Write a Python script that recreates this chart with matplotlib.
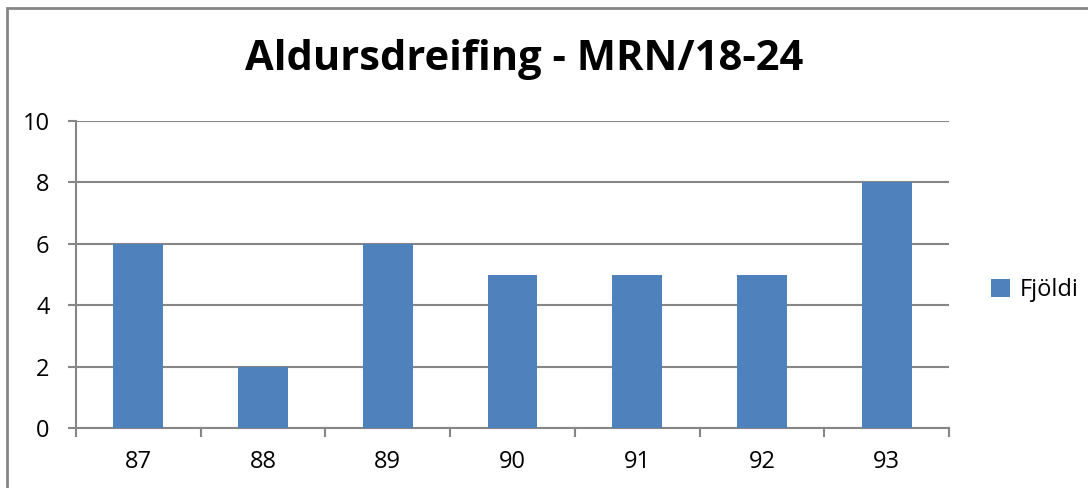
import matplotlib
matplotlib.use("Agg")
import matplotlib.pyplot as plt
from matplotlib.patches import Rectangle

years = ["87", "88", "89", "90", "91", "92", "93"]
fjoldi = [6, 2, 6, 5, 5, 5, 8]
yticks = [0, 2, 4, 6, 8, 10]

plt.rcParams['font.family'] = ['Open Sans', 'DejaVu Sans']
W, H = 1088, 488
fig = plt.figure(figsize=(W / 100, H / 100), dpi=100)
ax = fig.add_axes([76 / W, 1 - 428 / H, (949 - 76) / W, (428 - 121) / H])

grey = "#868686"
x = list(range(len(years)))
ax.bar(x, fjoldi, width=0.4, color="#4F81BD", zorder=3, label="Fjöldi")
ax.set_xlim(-0.5, len(years) - 0.5)
ax.set_ylim(0, 10)
ax.set_yticks(yticks)
ax.set_yticklabels([str(v) for v in yticks], fontsize=17)
ax.set_xticks(x)
ax.set_xticklabels(years, fontsize=17)
ax.tick_params(axis='x', length=0, pad=16)
ax.tick_params(axis='y', length=6, color=grey, width=1.5, pad=13)
ax.grid(axis='y', color=grey, linewidth=1.5, zorder=0)
for s in ['top', 'right']:
    ax.spines[s].set_visible(False)
ax.spines['left'].set_color(grey)
ax.spines['bottom'].set_color(grey)
ax.spines['left'].set_linewidth(1.5)
ax.spines['bottom'].set_linewidth(1.5)
# category boundary ticks below axis
for b in [i - 0.5 for i in range(len(years) + 1)]:
    ax.plot([b, b], [0, -0.25], color=grey, lw=1.5, clip_on=False, zorder=4)

fig.text(524 / W, 1 - 60 / H, "Aldursdreifing - MRN/18-24",
         ha='center', va='center', fontsize=30, fontweight='bold')

leg = ax.legend(loc='center left', bbox_to_anchor=(1.024, 0.45), frameon=False,
                fontsize=17, handlelength=0.8, handleheight=0.8, handletextpad=0.4)

fig.patches.append(Rectangle((7 / W, -0.1), 1.2, 1 - 8 / H + 0.1, transform=fig.transFigure,
                             fill=False, edgecolor=grey, linewidth=2))

fig.savefig("out.png", dpi=100)
